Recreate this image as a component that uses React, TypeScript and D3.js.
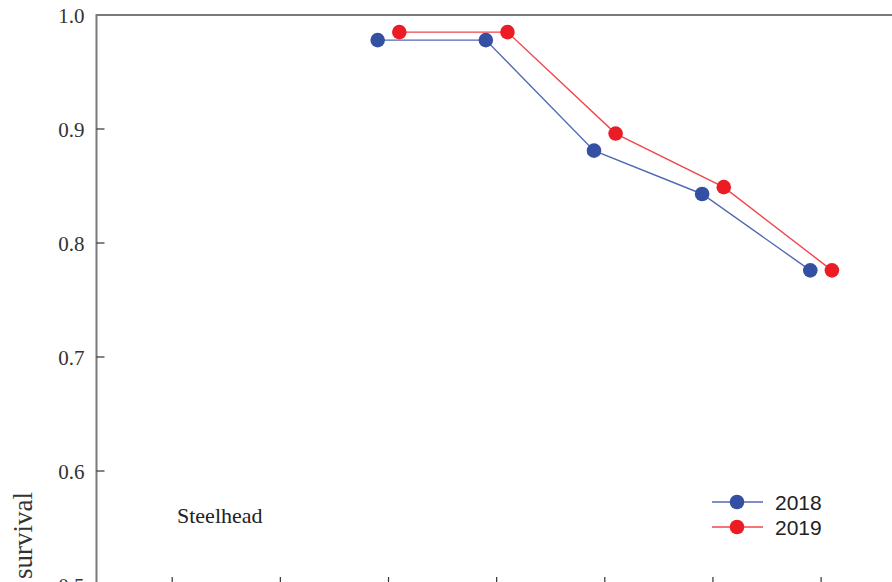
import React from "react";
import * as d3 from "d3";

// Survival by reach, two release years
const reachTicks = [1, 2, 3, 4, 5, 6, 7];
const reaches = [3, 4, 5, 6, 7];
const survival2018 = [0.978, 0.978, 0.881, 0.843, 0.776];
const survival2019 = [0.985, 0.985, 0.896, 0.849, 0.776];
const yTicks = [0.5, 0.6, 0.7, 0.8, 0.9, 1.0];
const years = ["2018", "2019"];

const W = 892;
const H = 582;
const left = 96.5;
const top = 15;
const bottom = 585;
const right = 896.8;

const BLUE = "#3450a3";
const RED = "#ec1c24";
const BLUE_LINE = "#5369b4";
const RED_LINE = "#f0464d";
const AXIS = "#7a7a7a";

export default function App() {
  const x = d3.scaleLinear().domain([0.3, 7.7]).range([left, right]);
  const y = d3.scaleLinear().domain([0.5, 1.0]).range([bottom, top]);
  const dodge = 0.1;

  const series = [
    { name: years[0], values: survival2018, off: -dodge, dot: BLUE, line: BLUE_LINE },
    { name: years[1], values: survival2019, off: dodge, dot: RED, line: RED_LINE },
  ];

  const line = d3
    .line<[number, number]>()
    .x((d) => x(d[0]))
    .y((d) => y(d[1]));

  return (
    <svg
      width={W}
      height={H}
      style={{ position: "absolute", left: 0, top: 0, background: "#fff" }}
    >
      {/* frame */}
      <line x1={left} x2={W + 10} y1={top} y2={top} stroke={AXIS} strokeWidth={2} />
      <line x1={left} x2={left} y1={top - 1} y2={bottom} stroke={AXIS} strokeWidth={2} />

      {/* y ticks */}
      {yTicks.map((t) => (
        <g key={t}>
          {t < 1 && (
            <line x1={left} x2={left + 8} y1={y(t)} y2={y(t)} stroke="#333" strokeWidth={1.2} />
          )}
          <text
            x={left - 12}
            y={y(t) + 8}
            textAnchor="end"
            fontFamily="Liberation Serif, Times New Roman, serif"
            fontSize={21}
            fill="#333"
          >
            {t.toFixed(1)}
          </text>
        </g>
      ))}

      {/* x ticks */}
      {reachTicks.map((t) => (
        <line
          key={t}
          x1={x(t)}
          x2={x(t)}
          y1={bottom}
          y2={bottom - 8}
          stroke="#333"
          strokeWidth={1.2}
        />
      ))}

      {/* y axis title */}
      <text
        transform={`translate(32,492) rotate(-90)`}
        textAnchor="end"
        fontFamily="Liberation Serif, Times New Roman, serif"
        fontSize={27}
        fill="#333"
      >
        survival
      </text>

      {/* species label */}
      <text
        x={177}
        y={523}
        fontFamily="Liberation Serif, Times New Roman, serif"
        fontSize={22}
        fill="#222"
      >
        Steelhead
      </text>

      {/* series */}
      {series.map((s) => {
        const pts: [number, number][] = reaches.map((r, i) => [r + s.off, s.values[i]]);
        return (
          <g key={s.name}>
            <path d={line(pts) ?? ""} fill="none" stroke={s.line} strokeWidth={1.4} />
            {pts.map((p, i) => (
              <circle key={i} cx={x(p[0])} cy={y(p[1])} r={7.3} fill={s.dot} />
            ))}
          </g>
        );
      })}

      {/* legend */}
      {series.map((s, i) => {
        const ly = 502 + i * 25;
        return (
          <g key={s.name}>
            <line x1={712} x2={763} y1={ly} y2={ly} stroke={s.line} strokeWidth={1.4} />
            <circle cx={737} cy={ly} r={7.3} fill={s.dot} />
            <text
              x={775}
              y={ly + 8}
              fontFamily="Liberation Sans, Arial, sans-serif"
              fontSize={21}
              fill="#222"
            >
              {s.name}
            </text>
          </g>
        );
      })}
    </svg>
  );
}
